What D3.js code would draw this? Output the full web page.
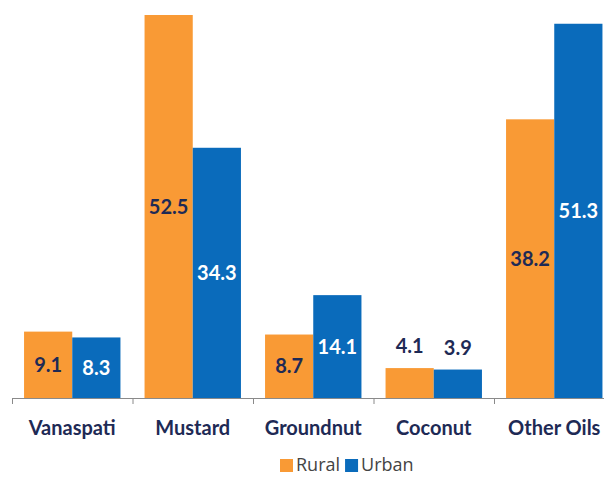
<!DOCTYPE html>
<html>
<head>
<meta charset="utf-8">
<script src="https://cdn.jsdelivr.net/npm/d3@7"></script>
<style>
  html, body { margin: 0; padding: 0; background: #fff; }
  svg { display: block; }
</style>
</head>
<body>
<svg id="chart" width="604" height="477"></svg>
<script>
const categories = ['Vanaspati', 'Mustard', 'Groundnut', 'Coconut', 'Other Oils'];
const seriesNames = ['Rural', 'Urban'];
const rural = [9.1, 52.5, 8.7, 4.1, 38.2];
const urban = [8.3, 34.3, 14.1, 3.9, 51.3];
const colors = ['#F99A35', '#0A6BBB'];
const labelColors = ['#1E2A55', '#FFFFFF'];

const svg = d3.select('#chart');
const baseY = 398;
const step = 120.5;

const x0 = d3.scaleBand().domain(categories).range([12, 12 + step * categories.length]).padding(0);
const x1 = d3.scaleBand().domain(seriesNames).range([step * 0.1, step * 0.9]).padding(0);
const y = d3.scaleLinear().domain([0, 52.5]).range([baseY, 15]);

const rows = categories.map((c, i) => ({ cat: c, vals: [rural[i], urban[i]] }));

const groups = svg.append('g').selectAll('g')
  .data(rows)
  .join('g')
  .attr('transform', (d) => `translate(${x0(d.cat)},0)`);

groups.selectAll('rect')
  .data((d) => d.vals.map((v, k) => ({ v, k })))
  .join('rect')
  .attr('x', (d) => x1(seriesNames[d.k]))
  .attr('width', x1.bandwidth())
  .attr('y', (d) => y(d.v))
  .attr('height', (d) => baseY - y(d.v))
  .attr('fill', (d) => colors[d.k]);

// value labels: centred in bar, above it if the bar is short
groups.selectAll('text')
  .data((d) => d.vals.map((v, k) => ({ v, k })))
  .join('text')
  .attr('x', (d) => x1(seriesNames[d.k]) + x1.bandwidth() / 2)
  .attr('y', (d) => {
    const h = baseY - y(d.v);
    return h < 40 ? y(d.v) - 22 : (y(d.v) + baseY) / 2;
  })
  .attr('dy', '0.35em')
  .attr('text-anchor', 'middle')
  .attr('font-family', 'Lato, sans-serif')
  .attr('font-weight', 'bold')
  .attr('font-size', 20)
  .attr('fill', (d) => (baseY - y(d.v) < 40 ? labelColors[0] : labelColors[d.k]))
  .text((d) => d.v.toFixed(1));

// axis line and tick marks at category boundaries
const axis = svg.append('g');
axis.append('line')
  .attr('x1', 12).attr('x2', 604)
  .attr('y1', baseY + 0.5).attr('y2', baseY + 0.5)
  .attr('stroke', '#8a8a8a').attr('stroke-width', 1);
axis.selectAll('line.tick')
  .data(categories)
  .join('line')
  .attr('class', 'tick')
  .attr('x1', (d) => x0(d) + 0.5).attr('x2', (d) => x0(d) + 0.5)
  .attr('y1', baseY).attr('y2', baseY + 6)
  .attr('stroke', '#8a8a8a');

axis.selectAll('text')
  .data(categories)
  .join('text')
  .attr('x', (d) => x0(d) + x0.bandwidth() / 2)
  .attr('y', 428)
  .attr('dy', '0.35em')
  .attr('text-anchor', 'middle')
  .attr('font-family', 'Lato, sans-serif')
  .attr('font-weight', 'bold')
  .attr('font-size', 20)
  .attr('fill', '#1E2A55')
  .text((d) => d);

// legend
const legend = svg.append('g').attr('transform', 'translate(280,459)');
let lx = 0;
seriesNames.forEach((name, k) => {
  legend.append('rect').attr('x', lx).attr('y', 0).attr('width', 13).attr('height', 13).attr('fill', colors[k]);
  const t = legend.append('text')
    .attr('x', lx + 16).attr('y', 6).attr('dy', '0.35em')
    .attr('font-family', '"Open Sans", sans-serif').attr('font-size', 18)
    .attr('fill', '#444').text(name);
  lx += 16 + t.node().getComputedTextLength() + 5;
});
</script>
</body>
</html>
